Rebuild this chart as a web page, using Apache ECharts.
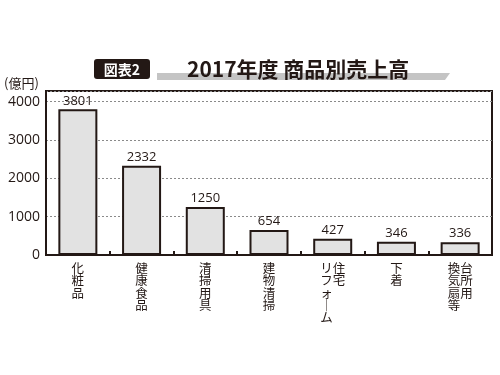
<!DOCTYPE html>
<html><head><meta charset="utf-8">
<script src="https://cdn.jsdelivr.net/npm/echarts@6/dist/echarts.min.js"></script>
<style>html,body{margin:0;padding:0;background:#fff}#c{width:500px;height:375px}</style>
</head><body><div id="c"></div>
<script>
// categories: each entry lists vertical text columns, right-to-left
const categories = ['化粧品','健康食品','清掃用具','建物清掃','住宅リフォーム','下着','台所用換気扇等'];
const categoryColumns = [['化粧品'],['健康食品'],['清掃用具'],['建物清掃'],['住宅','リフォーム'],['下着'],['台所用','換気扇等']];
const sales = [3801, 2332, 1250, 654, 427, 346, 336];
const yTicks = [0, 1000, 2000, 3000, 4000];
const titleBadge = '図表2';
const titleText = '2017年度 商品別売上高';
const unitText = '(億円)';

const ink = '#231815';
const font = '"Noto Sans CJK JP", "Noto Sans", sans-serif';
const numFont = '"Open Sans", "Noto Sans", sans-serif';

function verticalLabel(idx) {
  const cols = categoryColumns[idx].map(s => Array.from(s).map(ch => ch === 'ー' ? '｜' : ch));
  const n = Math.max(...cols.map(c => c.length));
  const lines = [];
  for (let i = 0; i < n; i++) {
    let line = '';
    for (let c = cols.length - 1; c >= 0; c--) line += (cols[c][i] || '　');
    lines.push(line);
  }
  return lines.join('\n');
}

const chart = echarts.init(document.getElementById('c'));
chart.setOption({
  animation: false,
  backgroundColor: '#fff',
  grid: {left: 46, right: 8, top: 91, bottom: 120, show: true, borderColor: ink, borderWidth: 2},
  xAxis: {
    type: 'category',
    data: categories,
    boundaryGap: true,
    axisLine: {show: true, lineStyle: {color: ink, width: 2}},
    axisTick: {show: true, inside: true, length: 4, interval: 0, lineStyle: {color: ink, width: 2}},
    axisLabel: {
      interval: 0, margin: 7, color: ink, fontSize: 12.5, lineHeight: 12.3, fontFamily: font,
      verticalAlign: 'top',
      formatter: (v) => verticalLabel(categories.indexOf(v))
    }
  },
  yAxis: {
    type: 'value', min: 0, max: 4280, interval: 1000,
    axisLine: {show: true, lineStyle: {color: ink, width: 2}},
    axisTick: {show: false},
    splitLine: {show: true, lineStyle: {color: '#8a8a8a', width: 1, type: [2, 2]}},
    axisLabel: {
      color: ink, fontSize: 14, margin: 6, fontFamily: numFont,
      showMaxLabel: false,
      formatter: v => yTicks.includes(v) ? String(v) : ''
    }
  },
  series: [{
    type: 'bar',
    data: sales,
    barWidth: 39,
    itemStyle: {borderColor: ink, borderWidth: 2, color: '#e2e2e2'},
    label: {show: true, position: 'top', distance: 2, color: ink, fontSize: 13, fontFamily: numFont}
  }],
  graphic: [
    {type: 'polygon', z: 1, shape: {points: [[157, 73], [450, 73], [445, 80], [157, 80]]},
     style: {fill: '#c4c4c4'}},
    {type: 'rect', z: 2, shape: {x: 94, y: 59, width: 56, height: 20, r: 3}, style: {fill: ink}},
    {type: 'text', z: 3, style: {x: 122, y: 69.5, text: titleBadge, fill: '#fff', fontSize: 14, fontWeight: 'bold', fontFamily: font, align: 'center', verticalAlign: 'middle'}},
    {type: 'text', z: 3, style: {x: 187, y: 69, text: titleText, fill: ink, fontSize: 21, fontWeight: 'bold', fontFamily: font, align: 'left', verticalAlign: 'middle'}},
    {type: 'text', z: 3, style: {x: 4, y: 83, text: unitText, fill: ink, fontSize: 13, fontFamily: font, align: 'left', verticalAlign: 'middle'}}
  ]
});
</script></body></html>
